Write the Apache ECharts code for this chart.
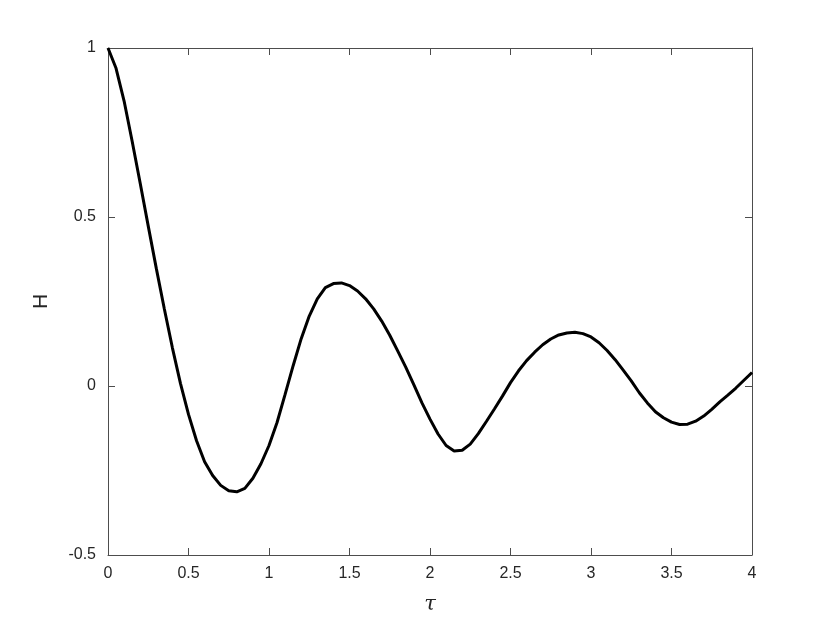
<!DOCTYPE html>
<html>
<head>
<meta charset="utf-8">
<script src="https://cdn.jsdelivr.net/npm/echarts@6/dist/echarts.min.js"></script>
<style>
html,body{margin:0;padding:0;background:#fff;}
#chart{width:830px;height:624px;}
</style>
</head>
<body>
<div id="chart"></div>
<script>
const tau = [0.00,0.05,0.10,0.15,0.20,0.25,0.30,0.35,0.40,0.45,0.50,0.55,0.60,0.65,0.70,0.75,0.80,0.85,0.90,0.95,
1.00,1.05,1.10,1.15,1.20,1.25,1.30,1.35,1.40,1.45,1.50,1.55,1.60,1.65,1.70,1.75,1.80,1.85,1.90,1.95,
2.00,2.05,2.10,2.15,2.20,2.25,2.30,2.35,2.40,2.45,2.50,2.55,2.60,2.65,2.70,2.75,2.80,2.85,2.90,2.95,
3.00,3.05,3.10,3.15,3.20,3.25,3.30,3.35,3.40,3.45,3.50,3.55,3.60,3.65,3.70,3.75,3.80,3.85,3.90,3.95,4.00];
const H = [1.000,0.940,0.843,0.724,0.600,0.473,0.348,0.228,0.113,0.008,-0.084,-0.162,-0.224,-0.265,-0.294,-0.310,-0.313,-0.303,-0.273,-0.230,
-0.176,-0.108,-0.025,0.060,0.140,0.207,0.258,0.291,0.303,0.305,0.297,0.281,0.258,0.228,0.192,0.150,0.103,0.055,0.003,-0.050,
-0.098,-0.142,-0.176,-0.192,-0.190,-0.172,-0.141,-0.105,-0.068,-0.030,0.010,0.045,0.075,0.100,0.122,0.139,0.151,0.157,0.159,0.155,
0.145,0.128,0.105,0.078,0.047,0.015,-0.020,-0.050,-0.076,-0.094,-0.107,-0.114,-0.113,-0.104,-0.089,-0.069,-0.047,-0.027,-0.006,0.017,0.040];
const xName = 'τ';
const yName = 'H';

const font = 'Liberation Sans, Arial, Helvetica, sans-serif';
const axisColor = '#4d4d4d';
const textColor = '#262626';
const chart = echarts.init(document.getElementById('chart'), null, {renderer:'canvas'});
const lineStyle = {color: axisColor, width: 1};
const tickStyle = {show:true, inside:true, length:7, lineStyle:{color: axisColor, width:1}};
chart.setOption({
  animation:false,
  backgroundColor:'#fff',
  grid:{left:108, right:78, top:48, bottom:69, containLabel:false},
  xAxis:[{
    type:'value', min:0, max:4, interval:0.5, position:'bottom',
    axisLine:{show:true, onZero:false, lineStyle:lineStyle},
    axisTick:tickStyle,
    splitLine:{show:false},
    axisLabel:{color:textColor, fontSize:16, fontFamily:font, margin:11},
    name:xName, nameLocation:'middle', nameGap:39,
    nameTextStyle:{color:textColor, fontSize:21, fontStyle:'italic', fontFamily:'DejaVu Serif, serif'}
  },{
    type:'value', min:0, max:4, interval:0.5, position:'top',
    axisLine:{show:true, onZero:false, lineStyle:lineStyle},
    axisTick:tickStyle, axisLabel:{show:false}, splitLine:{show:false}
  }],
  yAxis:[{
    type:'value', min:-0.5, max:1, interval:0.5, position:'left',
    axisLine:{show:true, onZero:false, lineStyle:lineStyle},
    axisTick:tickStyle,
    splitLine:{show:false},
    axisLabel:{color:textColor, fontSize:16, fontFamily:font, margin:12},
    name:yName, nameLocation:'middle', nameGap:56, nameRotate:90,
    nameTextStyle:{color:textColor, fontSize:21, fontFamily:font}
  },{
    type:'value', min:-0.5, max:1, interval:0.5, position:'right',
    axisLine:{show:true, onZero:false, lineStyle:lineStyle},
    axisTick:tickStyle, axisLabel:{show:false}, splitLine:{show:false}
  }],
  series:[{
    type:'line', xAxisIndex:0, yAxisIndex:0,
    data: tau.map((t,i)=>[t, H[i]]),
    showSymbol:false, smooth:false,
    lineStyle:{color:'#000', width:3},
    itemStyle:{color:'#000'}
  }]
});
</script>
</body>
</html>
